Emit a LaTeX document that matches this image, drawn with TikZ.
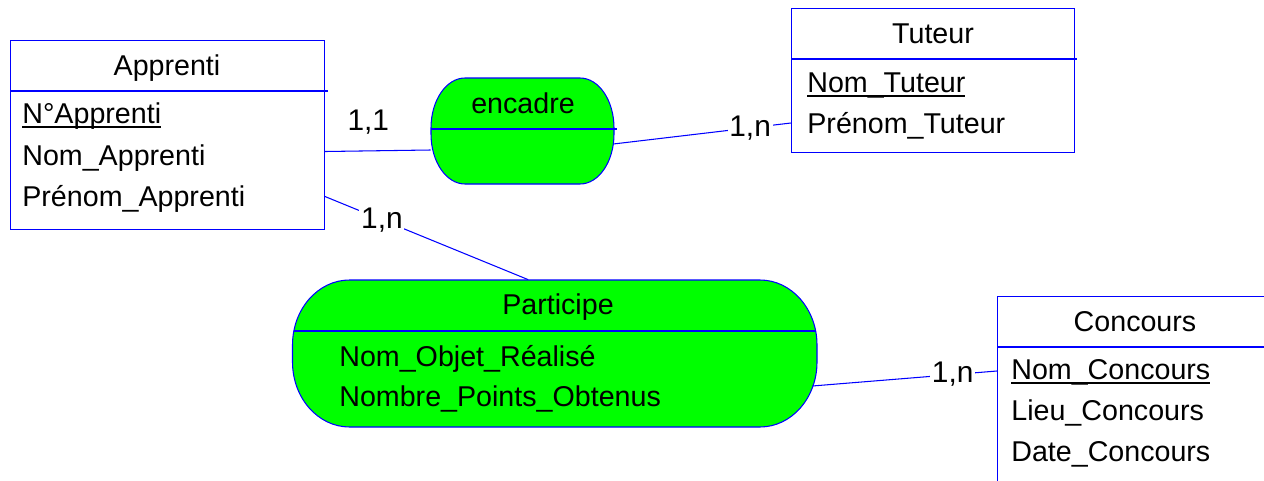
\documentclass[tikz,border=0pt]{standalone}
\usepackage{fontspec}
\setmainfont{Liberation Sans}
\usetikzlibrary{calc}
\newcommand{\cle}[1]{\setbox0\hbox{#1}\rlap{\rule[-2.8pt]{\wd0}{1pt}}\box0}

\begin{document}
\begin{tikzpicture}[x=0.02cm, y=-0.02cm,
  trait/.style={draw=blue, line width=0.6pt},
  entite/.style={trait, inner sep=0pt, anchor=north west},
  assoc/.style={trait, fill=green},
  texte/.style={font=\fontsize{16.3}{19}\selectfont, inner sep=0pt},
  card/.style={font=\fontsize{17}{20}\selectfont, fill=white, inner sep=1pt}]
  \useasboundingbox (0,0) rectangle (1264,480);
  \clip (0,0) rectangle (1264,480);
  % entites
  \node[entite, minimum width=6.28cm, minimum height=3.78cm] (apprenti) at (10,40) {};
  \node[entite, minimum width=5.66cm, minimum height=2.88cm] (tuteur) at (791,8) {};
  \node[entite, minimum width=5.52cm, minimum height=4.6cm] (concours) at (997,296) {};
  \draw[trait] (10,91) -- (328,91);
  \draw[trait] (791,59) -- (1077,59);
  \draw[trait] (997,347) -- (1264,347);
  % associations
  \draw[assoc] (465,78) -- (580,78) .. controls (598.8,78) and (614,100.4) .. (614,128) -- (614,134) .. controls (614,161.6) and (598.8,184) .. (580,184) -- (465,184) .. controls (446.2,184) and (431,161.6) .. (431,134) -- (431,128) .. controls (431,100.4) and (446.2,78) .. (465,78) -- cycle;
  \draw[trait] (431,129) -- (617,129);
  \draw[assoc] (349.5,280) -- (760,280) .. controls (791.5,280) and (817,309.1) .. (817,345) -- (817,362) .. controls (817,397.9) and (791.5,427) .. (760,427) -- (349.5,427) .. controls (318,427) and (292.5,397.9) .. (292.5,362) -- (292.5,345) .. controls (292.5,309.1) and (318,280) .. (349.5,280) -- cycle;
  \draw[trait] (293.8,331) -- (815.7,331);
  \node[minimum width=3.66cm, minimum height=2.12cm, inner sep=0pt] (encadre) at (522.5,131) {};
  \node[minimum width=10.49cm, minimum height=2.94cm, inner sep=0pt] (participe) at (554.75,353.5) {};
  % textes
  \node[texte, anchor=base] (t-apprenti) at (167,75) {Apprenti};
  \node[texte, anchor=base west] (a-num) at (22,123) {\cle{N°Apprenti}};
  \node[texte, anchor=base west] (a-nom) at (22,165) {Nom\_Apprenti};
  \node[texte, anchor=base west] (a-prenom) at (22,206) {Prénom\_Apprenti};
  \node[texte, anchor=base] (t-tuteur) at (933,43) {Tuteur};
  \node[texte, anchor=base west] (tu-nom) at (807,92) {\cle{Nom\_Tuteur}};
  \node[texte, anchor=base west] (tu-prenom) at (807,133) {Prénom\_Tuteur};
  \node[texte, anchor=base] (t-concours) at (1135,331) {Concours};
  \node[texte, anchor=base west] (c-nom) at (1011,379) {\cle{Nom\_Concours}};
  \node[texte, anchor=base west] (c-lieu) at (1011,420) {Lieu\_Concours};
  \node[texte, anchor=base west] (c-date) at (1011,461) {Date\_Concours};
  \node[texte, anchor=base] (t-encadre) at (523,113) {encadre};
  \node[texte, anchor=base] (t-participe) at (558,314) {Participe};
  \node[texte, anchor=base west] (p-objet) at (339,366) {Nom\_Objet\_Réalisé};
  \node[texte, anchor=base west] (p-points) at (339,406) {Nombre\_Points\_Obtenus};
  % liens
  \draw[trait] ($(apprenti.east)+(0,16.5)$) -- node[pos=0.41, above=9pt, inner sep=0pt, font=\fontsize{17}{20}\selectfont] (c11) {1,1} ($(encadre.west)+(0,19)$);
  \draw[trait] ($(encadre.east)+(-1,13)$) -- node[card, pos=0.77] (c1n-tuteur) {1,n} ($(tuteur.north west)+(0,115)$);
  \draw[trait] ($(apprenti.east)+(0,61.5)$) -- node[card, pos=0.28] (c1n-apprenti) {1,n} ($(participe.north)+(-26.5,0)$);
  \draw[trait] ($(participe.east)+(-5,32.5)$) -- node[card, pos=0.76] (c1n-concours) {1,n} ($(concours.north west)+(0,75)$);
\end{tikzpicture}
\end{document}
